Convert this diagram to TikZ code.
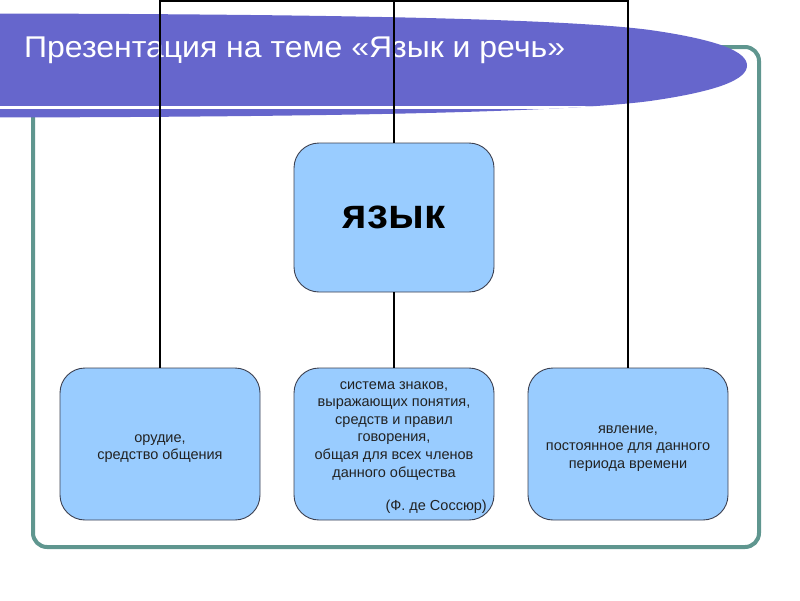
\documentclass[tikz,border=0pt]{standalone}
\usepackage{fontspec}
\setmainfont{Liberation Sans}
\newfontfamily\titlefont[FakeStretch=1.066]{Liberation Sans}
\definecolor{banner}{RGB}{102,102,204}
\definecolor{frameteal}{RGB}{95,150,143}
\definecolor{boxfill}{RGB}{153,204,255}
\definecolor{boxline}{RGB}{60,64,80}
\definecolor{boxtext}{RGB}{34,34,34}
\tikzset{
  box/.style={draw=boxline, line width=0.9pt, fill=boxfill, rounded corners=25pt, minimum width=200pt, inner sep=0pt},
  smalltext/.style={text=boxtext, align=center, font=\fontsize{14.5}{17.6}\selectfont, inner sep=0pt},
  conn/.style={draw=black, line width=2pt}
}
\begin{document}
\begin{tikzpicture}[x=1pt,y=-1pt]
\useasboundingbox (0,0) rectangle (800,600);
\clip (0,0) rectangle (800,600);
% frame
\draw[frameteal, line width=4pt, rounded corners=14pt] (33,47) rectangle (759,547);
% banner
\begin{scope}
\path[fill=banner] (-10,13.5) .. controls (300,14) and (560,18) .. (650,30)
  .. controls (720,40) and (747,52) .. (747,65.5)
  .. controls (747,79) and (720,91) .. (650,101)
  .. controls (560,113) and (300,117) .. (-10,117.5) -- cycle;
\clip (-10,13.5) .. controls (300,14) and (560,18) .. (650,30)
  .. controls (720,40) and (747,52) .. (747,65.5)
  .. controls (747,79) and (720,91) .. (650,101)
  .. controls (560,113) and (300,117) .. (-10,117.5) -- cycle;
\draw[white, line width=3pt] (-10,107.5) -- (760,107.5);
\end{scope}
\node[anchor=base west, text=white, inner sep=0pt, font=\titlefont\fontsize{30}{34}\selectfont] (title) at (24,57) {Презентация на теме «Язык и речь»};
% boxes
\node[box, minimum width=200pt, minimum height=149pt, font=\bfseries\fontsize{42}{42}\selectfont] (lang) at (394,217.5) {язык};
\node[box, minimum height=152pt] (b1) at (160,444) {};
\node[box, minimum height=152pt] (b2) at (394,444) {};
\node[box, minimum height=152pt] (b3) at (628,444) {};
\node[smalltext, anchor=north] (t1) at (160,434) {орудие,\\средство общения};
\node[smalltext, anchor=north] (t2) at (394,381) {система знаков,\\выражающих понятия,\\средств и правил\\говорения,\\общая для всех членов\\данного общества};
\node[smalltext, anchor=base east] (t2b) at (487,510) {(Ф. де Соссюр)};
\node[smalltext, anchor=north] (t3) at (628,425) {явление,\\постоянное для данного\\периода времени};
% connectors
\coordinate (top) at (394,1);
\draw[conn] (b1.north) -- (b1.north |- top) -- (b3.north |- top) -- (b3.north);
\draw[conn] (lang.north) -- (lang.north |- top);
\draw[conn] (lang.south) -- (b2.north);
\end{tikzpicture}
\end{document}
